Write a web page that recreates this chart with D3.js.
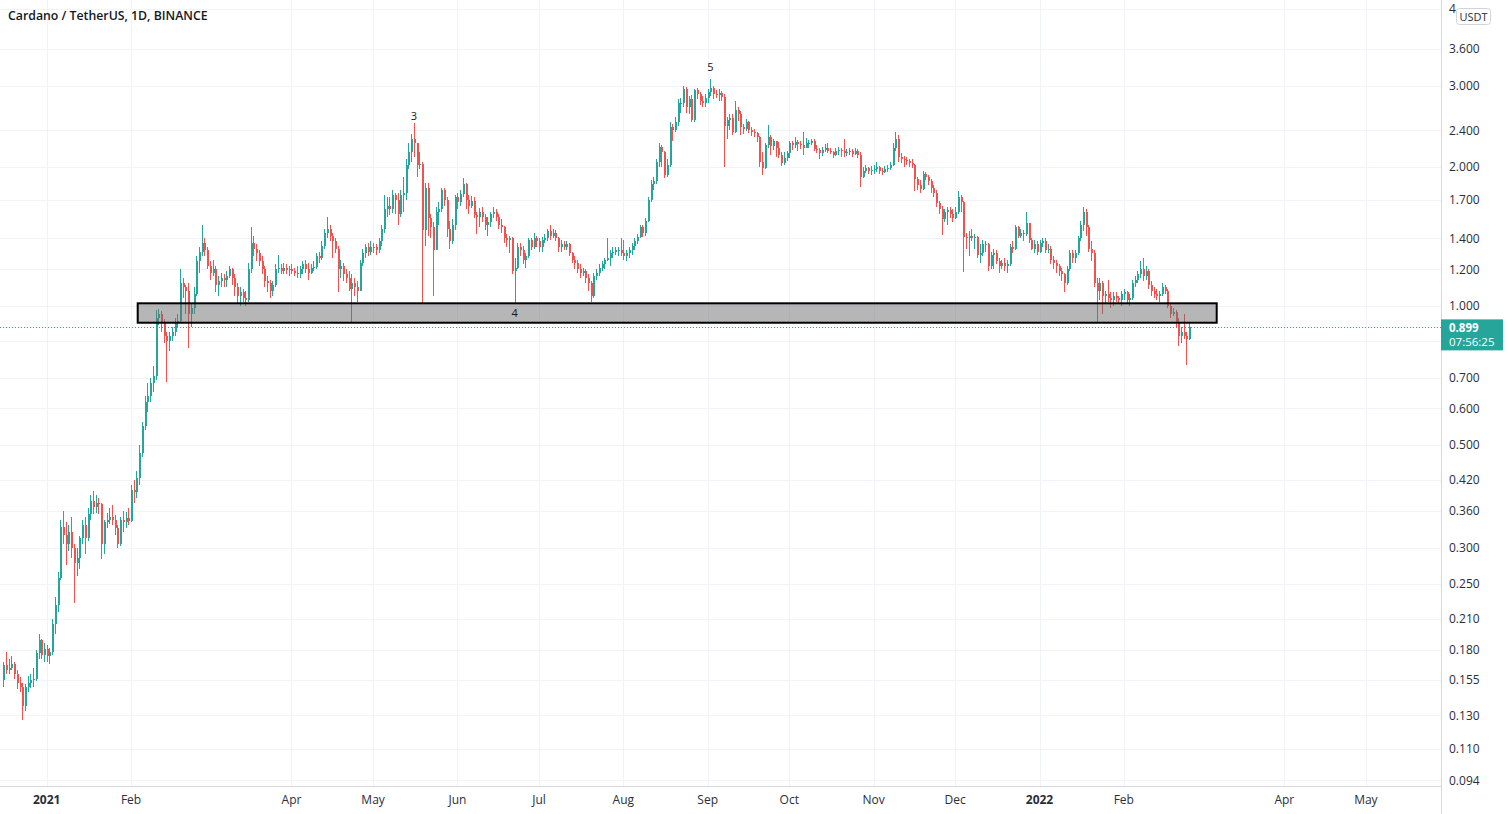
<!DOCTYPE html>
<html><head><meta charset="utf-8">
<script src="https://cdn.jsdelivr.net/npm/d3@7"></script>
<style>html,body{margin:0;padding:0;background:#fff;overflow:hidden}svg{display:block}</style>
</head><body><svg id="c" width="1508" height="814"></svg>
<script>
// ---------- DATA (ADA/USDT daily) ----------
const startDate = "2020-12-16";
const firstOpen = 0.155;
const closes = [
0.167,0.163,0.165,0.168,0.160,0.153,0.150,0.136,0.150,0.153,0.155,0.156,0.177,0.189,0.176,0.181,
0.175,0.178,0.205,0.225,0.258,0.333,0.320,0.305,0.325,0.300,0.278,0.285,0.314,0.335,0.315,0.355,0.378,0.368,0.375,0.372,0.306,0.340,0.345,0.350,0.345,0.330,0.306,0.345,0.340,0.348,0.343,
0.400,0.395,0.425,0.480,0.550,0.620,0.640,0.680,0.705,0.940,0.960,0.925,0.860,0.840,0.860,0.880,0.920,0.930,1.120,1.100,1.080,0.960,0.990,1.060,1.250,1.310,1.370,1.320,
1.220,1.180,1.200,1.110,1.130,1.150,1.140,1.160,1.200,1.150,1.100,1.050,1.070,1.040,1.030,1.200,1.370,1.330,1.300,1.250,1.200,1.130,1.120,1.080,1.110,1.200,1.210,1.190,1.210,1.195,1.200,
1.190,1.180,1.170,1.200,1.230,1.200,1.180,1.210,1.215,1.280,1.270,1.350,1.440,1.470,1.420,1.380,1.330,1.200,1.220,1.170,1.150,1.090,1.120,1.100,1.080,1.240,1.300,1.340,1.310,1.340,
1.340,1.320,1.380,1.470,1.620,1.650,1.620,1.740,1.700,1.580,1.740,1.760,2.020,2.150,2.300,2.250,2.020,2.030,1.460,1.800,1.550,1.480,1.320,1.600,1.620,1.780,1.700,1.470,1.380,1.500,1.720,
1.680,1.750,1.840,1.700,1.650,1.690,1.570,1.560,1.600,1.560,1.500,1.520,1.580,1.600,1.560,1.500,1.480,1.400,1.390,1.400,1.190,1.210,1.340,1.320,1.260,1.280,1.390,1.340,1.400,1.380,
1.340,1.390,1.400,1.450,1.420,1.440,1.400,1.340,1.360,1.340,1.360,1.300,1.260,1.240,1.200,1.180,1.190,1.150,1.120,1.050,1.160,1.180,1.210,1.230,1.260,1.270,1.300,1.310,1.320,1.320,1.300,
1.280,1.300,1.320,1.350,1.380,1.410,1.480,1.440,1.530,1.700,1.840,1.860,2.050,2.210,2.150,1.920,2.020,2.440,2.400,2.500,2.750,2.750,2.950,2.700,2.800,2.530,2.930,2.880,2.780,2.750,2.820,
2.900,2.960,2.880,2.860,2.890,2.840,2.450,2.530,2.550,2.380,2.660,2.600,2.440,2.420,2.500,2.400,2.380,2.370,2.320,2.050,1.990,2.230,2.320,2.220,2.280,2.200,2.120,2.040,2.090,2.140,
2.250,2.230,2.270,2.240,2.230,2.200,2.250,2.250,2.280,2.190,2.180,2.140,2.180,2.200,2.170,2.150,2.120,2.160,2.180,2.160,2.140,2.150,2.170,2.130,2.160,2.120,1.900,1.960,1.990,1.960,1.970,
1.980,2.000,1.960,1.950,1.980,1.990,2.020,2.200,2.300,2.100,2.080,2.070,2.060,2.040,2.020,1.880,1.830,1.790,1.930,1.900,1.860,1.800,1.760,1.670,1.620,1.540,1.600,1.610,1.580,1.550,
1.600,1.720,1.680,1.410,1.400,1.420,1.400,1.410,1.290,1.300,1.360,1.360,1.220,1.290,1.300,1.250,1.220,1.240,1.220,1.230,1.340,1.330,1.480,1.420,1.440,1.430,1.510,1.390,1.330,1.360,1.310,
1.370,1.380,1.320,1.330,1.260,1.240,1.220,1.190,1.170,1.120,1.200,1.300,1.270,1.300,1.400,1.500,1.600,1.480,1.330,1.300,1.120,1.080,1.120,1.050,1.060,1.040,1.030,1.050,1.040,1.030,1.060,
1.070,1.030,1.040,1.120,1.140,1.170,1.200,1.160,1.190,1.110,1.080,1.060,1.050,1.060,1.100,1.080,1.000,0.960,0.970,0.920,0.860,0.880,0.860,0.850,0.899
];
const highs = [
0.170,0.178,0.172,0.175,0.170,0.163,0.157,0.153,0.152,0.158,0.160,0.165,0.180,0.195,0.190,0.186,
0.185,0.182,0.210,0.235,0.265,0.345,0.360,0.340,0.335,0.350,0.305,0.300,0.318,0.345,0.350,0.365,0.390,0.398,0.390,0.385,0.375,0.345,0.356,0.365,0.370,0.352,0.335,0.350,0.360,0.358,0.365,
0.410,0.420,0.440,0.500,0.560,0.640,0.680,0.700,0.740,0.980,0.985,0.975,0.935,0.880,0.880,0.900,0.940,0.960,1.200,1.150,1.110,1.120,1.010,1.100,1.280,1.340,1.500,1.400,
1.340,1.250,1.260,1.220,1.160,1.180,1.170,1.190,1.220,1.210,1.170,1.120,1.100,1.090,1.080,1.240,1.480,1.420,1.360,1.320,1.280,1.220,1.160,1.140,1.130,1.230,1.290,1.230,1.240,1.230,1.220,
1.230,1.210,1.220,1.220,1.250,1.260,1.240,1.230,1.250,1.300,1.310,1.380,1.470,1.560,1.500,1.440,1.400,1.350,1.260,1.240,1.200,1.190,1.170,1.150,1.130,1.260,1.330,1.360,1.370,1.380,
1.370,1.360,1.400,1.500,1.740,1.720,1.720,1.780,1.760,1.760,1.780,1.900,2.080,2.250,2.360,2.490,2.250,2.150,2.050,1.850,1.850,1.580,1.520,1.640,1.680,1.800,1.800,1.720,1.530,1.540,1.740,
1.760,1.780,1.890,1.850,1.740,1.730,1.720,1.600,1.630,1.640,1.580,1.560,1.600,1.640,1.620,1.580,1.540,1.490,1.430,1.420,1.410,1.270,1.370,1.370,1.350,1.300,1.400,1.400,1.440,1.420,
1.400,1.410,1.430,1.470,1.500,1.470,1.460,1.410,1.390,1.380,1.380,1.370,1.310,1.280,1.260,1.230,1.210,1.200,1.170,1.130,1.180,1.200,1.230,1.250,1.270,1.400,1.320,1.340,1.340,1.340,1.400,
1.390,1.320,1.340,1.370,1.400,1.430,1.500,1.500,1.550,1.720,1.870,1.900,2.080,2.250,2.230,2.170,2.080,2.500,2.480,2.560,2.800,2.820,3.000,2.980,2.850,2.860,2.950,2.960,2.900,2.850,2.870,
2.950,3.100,3.000,2.930,2.950,2.920,2.870,2.570,2.600,2.600,2.780,2.700,2.640,2.480,2.540,2.520,2.440,2.420,2.380,2.330,2.150,2.250,2.460,2.350,2.300,2.280,2.260,2.150,2.150,2.170,
2.280,2.280,2.320,2.290,2.280,2.385,2.310,2.290,2.300,2.300,2.230,2.200,2.210,2.240,2.250,2.200,2.170,2.200,2.210,2.200,2.300,2.190,2.200,2.190,2.200,2.190,2.150,2.000,2.020,2.000,2.010,
2.020,2.050,2.010,1.990,2.010,2.020,2.050,2.250,2.385,2.340,2.140,2.110,2.100,2.080,2.080,2.030,1.900,1.870,1.960,1.950,1.920,1.880,1.830,1.780,1.690,1.650,1.620,1.640,1.640,1.620,
1.640,1.770,1.740,1.690,1.440,1.450,1.470,1.430,1.420,1.360,1.390,1.380,1.370,1.310,1.330,1.320,1.270,1.260,1.270,1.260,1.360,1.380,1.500,1.490,1.470,1.460,1.600,1.510,1.400,1.390,1.380,
1.390,1.400,1.400,1.360,1.350,1.280,1.260,1.230,1.210,1.180,1.220,1.320,1.320,1.320,1.420,1.530,1.640,1.620,1.500,1.380,1.320,1.150,1.150,1.130,1.080,1.140,1.070,1.070,1.070,1.050,1.080,
1.090,1.080,1.060,1.140,1.160,1.190,1.250,1.268,1.220,1.200,1.130,1.100,1.090,1.080,1.120,1.110,1.090,1.010,0.990,0.980,0.940,0.900,0.960,0.880,0.920
];
const lows = [
0.150,0.160,0.160,0.163,0.156,0.148,0.146,0.127,0.133,0.146,0.149,0.150,0.154,0.172,0.172,0.170,
0.170,0.168,0.176,0.195,0.218,0.255,0.305,0.275,0.295,0.285,0.228,0.260,0.270,0.305,0.290,0.310,0.345,0.355,0.356,0.355,0.283,0.290,0.330,0.338,0.335,0.320,0.300,0.302,0.325,0.330,0.335,
0.340,0.375,0.385,0.410,0.470,0.540,0.590,0.620,0.650,0.690,0.910,0.880,0.830,0.686,0.800,0.840,0.860,0.900,0.920,1.040,0.960,0.810,0.900,0.960,1.050,1.180,1.280,1.280,
1.200,1.140,1.160,1.070,1.050,1.100,1.100,1.100,1.150,1.110,1.050,1.010,1.000,1.020,1.000,1.020,1.180,1.280,1.250,1.220,1.170,1.100,1.070,1.040,1.050,1.100,1.180,1.170,1.170,1.170,1.160,
1.170,1.160,1.150,1.150,1.170,1.180,1.140,1.170,1.190,1.200,1.240,1.260,1.330,1.400,1.380,1.270,1.300,1.070,1.150,1.130,1.120,1.080,0.920,1.050,1.020,1.080,1.220,1.270,1.280,1.290,
1.300,1.290,1.300,1.350,1.440,1.560,1.570,1.590,1.580,1.500,1.560,1.600,1.700,1.980,2.050,2.100,1.900,1.980,1.010,1.350,1.420,1.400,1.050,1.320,1.500,1.600,1.650,1.410,1.330,1.360,1.460,
1.620,1.650,1.720,1.620,1.580,1.630,1.550,1.430,1.480,1.520,1.460,1.420,1.480,1.550,1.530,1.470,1.440,1.370,1.340,1.300,1.170,1.010,1.200,1.280,1.230,1.210,1.270,1.320,1.330,1.340,
1.310,1.310,1.370,1.380,1.390,1.400,1.380,1.310,1.310,1.320,1.320,1.280,1.240,1.200,1.180,1.150,1.160,1.120,1.080,1.020,1.040,1.140,1.160,1.190,1.200,1.250,1.220,1.270,1.290,1.280,1.280,
1.260,1.250,1.270,1.290,1.320,1.360,1.400,1.410,1.420,1.520,1.680,1.780,1.840,2.000,2.000,1.890,1.900,2.000,2.280,2.380,2.450,2.620,2.700,2.620,2.600,2.500,2.500,2.800,2.720,2.700,2.700,
2.750,2.850,2.800,2.820,2.780,2.780,2.000,2.300,2.400,2.350,2.370,2.520,2.350,2.360,2.390,2.370,2.330,2.320,2.260,2.000,1.920,1.980,2.200,2.120,2.180,2.100,2.090,2.010,2.020,2.060,
2.090,2.180,2.200,2.170,2.190,2.120,2.200,2.200,2.230,2.160,2.140,2.080,2.110,2.150,2.140,2.130,2.090,2.110,2.120,2.100,2.100,2.110,2.120,2.100,2.120,2.090,1.810,1.890,1.940,1.930,1.920,
1.930,1.950,1.930,1.920,1.940,1.950,1.970,2.010,2.170,2.050,2.040,2.000,2.020,2.000,1.990,1.770,1.780,1.760,1.780,1.870,1.830,1.760,1.720,1.640,1.580,1.425,1.520,1.500,1.550,1.520,
1.540,1.580,1.600,1.186,1.330,1.280,1.380,1.330,1.270,1.240,1.280,1.310,1.190,1.200,1.200,1.230,1.180,1.200,1.190,1.180,1.220,1.300,1.320,1.400,1.400,1.380,1.420,1.370,1.320,1.300,1.290,
1.300,1.340,1.300,1.300,1.230,1.200,1.180,1.160,1.130,1.070,1.110,1.190,1.240,1.240,1.290,1.380,1.450,1.420,1.310,1.250,1.100,0.920,1.030,0.960,1.010,1.020,0.990,1.000,1.020,1.010,1.000,
1.030,1.010,1.000,1.030,1.100,1.120,1.150,1.130,1.140,1.090,1.050,1.040,1.030,1.020,1.050,1.060,0.990,0.940,0.950,0.900,0.820,0.830,0.850,0.745,0.845
];
const priceTicks = [4.4, 3.6, 3.0, 2.4, 2.0, 1.7, 1.4, 1.2, 1.0, 0.84, 0.7, 0.6, 0.5, 0.42, 0.36, 0.3, 0.25, 0.21, 0.18, 0.155, 0.13, 0.11, 0.094];
const monthTicks = ["2021-01-01","2021-02-01","2021-04-01","2021-05-01","2021-06-01","2021-07-01","2021-08-01","2021-09-01","2021-10-01","2021-11-01","2021-12-01","2022-01-01","2022-02-01","2022-04-01","2022-05-01"];
const monthLabels = ["2021","Feb","Apr","May","Jun","Jul","Aug","Sep","Oct","Nov","Dec","2022","Feb","Apr","May"];
const zoneDates = ["2021-02-03T11:00Z","2022-03-07T03:30Z"];
const zonePrices = [1.0135, 0.920];
const waveLabels = ["3","4","5"];
const waveDates = ["2021-05-16","2021-06-22","2021-09-02"];
const wavePrices = [2.58, 0.966, 3.29];
const title = "Cardano / TetherUS, 1D, BINANCE";
const lastPrice = 0.899;
const countdown = "07:56:25";
const currency = "USDT";

// ---------- LAYOUT ----------
const W = 1508, H = 814, plotR = 1441, plotB = 786;
const UP = "#26a69a", DOWN = "#ef5350", GRID = "#f0f3fa", AXIS = "#d6d9e0", TXT = "#2a2e39";
const FONT = "'Open Sans', 'Noto Sans', sans-serif";

const svg = d3.select("#c");
svg.append("rect").attr("width", W).attr("height", H).attr("fill", "#fff");

const x = d3.scaleUtc()
  .domain([new Date("2021-01-01T00:00Z"), new Date("2022-01-01T00:00Z")])
  .range([46.7, 46.7 + 365 * 2.72]);
const y = d3.scaleLog().domain([1, 10]).range([306, 306 - 462]);

const t0 = new Date(startDate + "T00:00Z").getTime();
const data = closes.map((c, i) => {
  const o = i === 0 ? firstOpen : closes[i - 1];
  return { date: new Date(t0 + i * 864e5), o, c,
           h: Math.max(highs[i], o, c), l: Math.min(lows[i], o, c) };
});

// grid
const grid = svg.append("g");
grid.selectAll("line.v").data(monthTicks).join("line")
  .attr("x1", d => Math.round(x(new Date(d + "T00:00Z"))) + 0.5)
  .attr("x2", d => Math.round(x(new Date(d + "T00:00Z"))) + 0.5)
  .attr("y1", 0).attr("y2", plotB).attr("stroke", GRID).attr("stroke-width", 1);
grid.selectAll("line.h").data(priceTicks).join("line")
  .attr("x1", 0).attr("x2", plotR)
  .attr("y1", d => Math.round(y(d)) + 0.5).attr("y2", d => Math.round(y(d)) + 0.5)
  .attr("stroke", GRID).attr("stroke-width", 1);

// candles
svg.append("clipPath").attr("id", "clip").append("rect")
  .attr("x", 0).attr("y", 0).attr("width", plotR).attr("height", plotB);
const cg = svg.append("g").attr("clip-path", "url(#clip)").attr("shape-rendering", "crispEdges");
const col = d => d.c >= d.o ? UP : DOWN;
cg.selectAll("rect.wick").data(data).join("rect")
  .attr("x", d => Math.round(x(d.date)))
  .attr("width", 1)
  .attr("y", d => Math.round(y(d.h)))
  .attr("height", d => Math.max(1, Math.round(y(d.l)) - Math.round(y(d.h))))
  .attr("fill", col);
cg.selectAll("rect.body").data(data).join("rect")
  .attr("x", d => Math.round(x(d.date)) - 0.5)
  .attr("width", 2)
  .attr("y", d => Math.round(y(Math.max(d.o, d.c))))
  .attr("height", d => Math.max(1, Math.round(y(Math.min(d.o, d.c))) - Math.round(y(Math.max(d.o, d.c)))))
  .attr("fill", col);

// zone rectangle
const zx0 = x(new Date(zoneDates[0])), zx1 = x(new Date(zoneDates[1]));
svg.append("rect")
  .attr("x", zx0).attr("y", y(zonePrices[0]))
  .attr("width", zx1 - zx0).attr("height", y(zonePrices[1]) - y(zonePrices[0]))
  .attr("fill", "rgba(110,110,110,0.5)")
  .attr("stroke", "#000").attr("stroke-width", 2);

// wave labels
svg.append("g").selectAll("text").data(waveLabels).join("text")
  .attr("x", (d, i) => x(new Date(waveDates[i] + "T00:00Z")))
  .attr("y", (d, i) => y(wavePrices[i]))
  .attr("dy", "0.35em").attr("text-anchor", "middle")
  .attr("font-family", FONT).attr("font-size", 11).attr("fill", "#131722")
  .text(d => d);

// last price dotted line
svg.append("line").attr("x1", 0).attr("x2", plotR)
  .attr("y1", Math.round(y(lastPrice)) + 0.5).attr("y2", Math.round(y(lastPrice)) + 0.5)
  .attr("stroke", UP).attr("stroke-width", 1).attr("stroke-dasharray", "1,2");

// axes borders
svg.append("line").attr("x1", plotR + 0.5).attr("x2", plotR + 0.5).attr("y1", 0).attr("y2", H).attr("stroke", AXIS);
svg.append("line").attr("x1", 0).attr("x2", plotR).attr("y1", plotB + 0.5).attr("y2", plotB + 0.5).attr("stroke", AXIS);

// price axis labels (top one is partly hidden under the currency badge, as in the reference)
svg.append("clipPath").attr("id", "axclip").append("rect")
  .attr("x", plotR + 1).attr("y", 0).attr("width", 15).attr("height", 25);
svg.append("g").selectAll("text").data(priceTicks.filter(v => v !== 0.84)).join("text")
  .attr("x", 1449).attr("y", d => y(d)).attr("dy", "0.35em")
  .attr("font-family", FONT).attr("font-size", 12).attr("fill", TXT)
  .attr("clip-path", d => d > 4 ? "url(#axclip)" : null)
  .text(d => d3.format(".3f")(d));

// time axis labels
svg.append("g").selectAll("text").data(monthLabels).join("text")
  .attr("x", (d, i) => x(new Date(monthTicks[i] + "T00:00Z")))
  .attr("y", 804).attr("text-anchor", "middle")
  .attr("font-family", FONT).attr("font-size", 12)
  .attr("font-weight", d => /^\d{4}$/.test(d) ? 700 : 400)
  .attr("fill", TXT).text(d => d);

// currency box
svg.append("rect").attr("x", 1456.5).attr("y", 8.5).attr("width", 34).attr("height", 16).attr("rx", 3)
  .attr("fill", "#fff").attr("stroke", "#d1d4dc");
svg.append("text").attr("x", 1473.5).attr("y", 20.5).attr("text-anchor", "middle")
  .attr("font-family", FONT).attr("font-size", 11).attr("fill", TXT).text(currency);

// last price label
const ly = y(lastPrice);
svg.append("rect").attr("x", plotR).attr("y", ly - 8).attr("width", 62).attr("height", 31).attr("fill", UP);
svg.append("text").attr("x", 1449).attr("y", ly + 4.5)
  .attr("font-family", FONT).attr("font-size", 11.5).attr("font-weight", 700).attr("fill", "#fff")
  .text(d3.format(".3f")(lastPrice));
svg.append("text").attr("x", 1449).attr("y", ly + 19)
  .attr("font-family", FONT).attr("font-size", 11.5).attr("fill", "#fff").text(countdown);

// title
svg.append("text").attr("x", 8).attr("y", 20)
  .attr("font-family", FONT).attr("font-size", 12.3).attr("font-weight", 600).attr("fill", "#131722")
  .text(title);
</script>
</body></html>
